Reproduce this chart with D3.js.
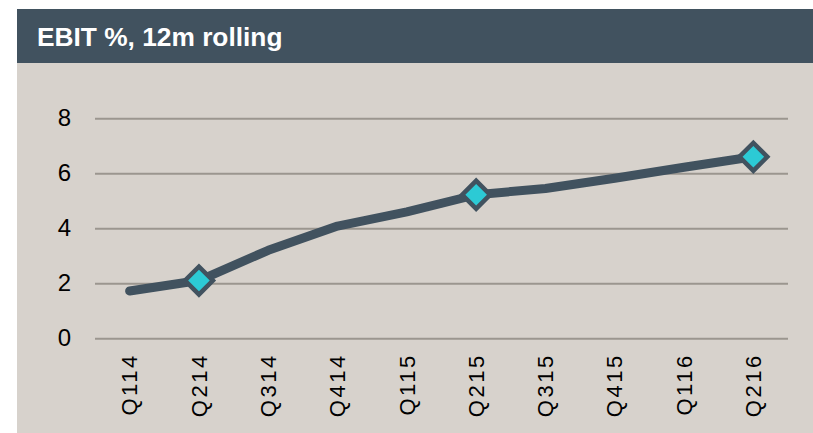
<!DOCTYPE html>
<html><head><meta charset="utf-8">
<script src="https://cdn.jsdelivr.net/npm/d3@7"></script>
<style>body{margin:0;background:#fff;}svg{display:block;}</style>
</head><body>
<script>
const categories = ["Q114","Q214","Q314","Q414","Q115","Q215","Q315","Q415","Q116","Q216"];
const values = [1.72, 2.1, 3.2, 4.08, 4.6, 5.22, 5.45, 5.82, 6.22, 6.6];
const markerCats = ["Q214","Q215","Q216"];
const yTicks = [0,2,4,6,8];
const title = "EBIT %, 12m rolling";

const W = 813, H = 433;
const FONT = "Liberation Sans, Arial, sans-serif";
const svg = d3.select("body").append("svg").attr("width", W).attr("height", H);
svg.append("rect").attr("x",17).attr("y",9).attr("width",W-17).attr("height",H-9).attr("fill","#d7d2cc");
svg.append("rect").attr("x",17).attr("y",9).attr("width",W-17).attr("height",54).attr("fill","#41525f");
svg.append("text").attr("x",37).attr("y",46).text(title)
  .attr("fill","#fff").attr("font-family",FONT)
  .attr("font-weight","bold").attr("font-size",26.3);

const x = d3.scaleBand().domain(categories).range([95,788]);
const y = d3.scaleLinear().domain([0,8]).range([338.3,118.3]);

const gy = svg.append("g").attr("transform","translate(95,0)")
  .call(d3.axisLeft(y).tickValues(yTicks).tickSize(-(788-95)).tickPadding(24).tickFormat(d3.format("d")));
gy.select(".domain").remove();
gy.selectAll(".tick line").attr("stroke","#9b968f").attr("stroke-width",2);
gy.selectAll(".tick text").attr("font-family",FONT).attr("font-size",24).attr("fill","#000");

const gx = svg.append("g").attr("transform","translate(0,338.3)")
  .call(d3.axisBottom(x).tickSize(0).tickPadding(0));
gx.select(".domain").remove();
gx.selectAll(".tick text").attr("font-family",FONT).attr("font-size",22).attr("fill","#000")
  .attr("letter-spacing","2.5px")
  .attr("transform","rotate(-90)").attr("text-anchor","end").attr("dy","0.35em").attr("x",-15).attr("y",0);

const cx = d => x(d) + x.bandwidth()/2;
const line = d3.line().x((d,i)=>cx(categories[i])).y(d=>y(d));
svg.append("path").datum(values).attr("d",line).attr("fill","none")
  .attr("stroke","#41525f").attr("stroke-width",9).attr("stroke-linecap","round").attr("stroke-linejoin","round");

svg.selectAll(".mk").data(markerCats).enter().append("path")
  .attr("d", d3.symbol().type(d3.symbolSquare).size(390)())
  .attr("transform", d => `translate(${cx(d)},${y(values[categories.indexOf(d)])}) rotate(45)`)
  .attr("fill","#2ccad5").attr("stroke","#41525f").attr("stroke-width",4.5);
</script>
</body></html>
